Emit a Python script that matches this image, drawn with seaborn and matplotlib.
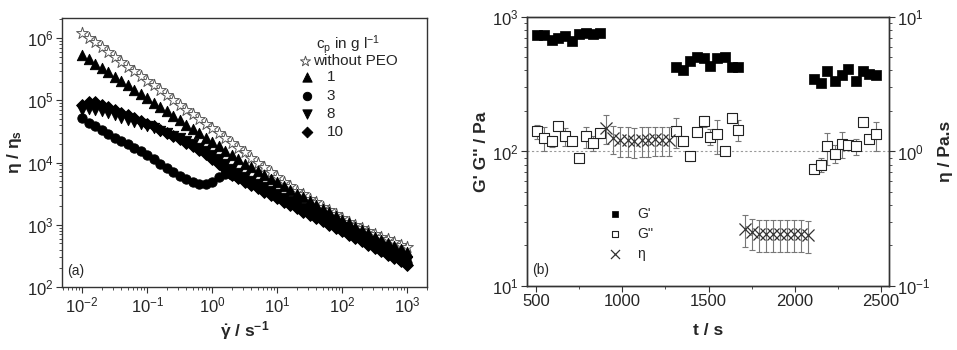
import matplotlib
matplotlib.use("Agg")
import matplotlib.pyplot as plt
import seaborn as sns
from matplotlib.ticker import MultipleLocator, LogLocator, NullFormatter


# ---- panel (a): relative viscosity vs shear rate ----
shear_rate = [0.01, 0.0126, 0.0158, 0.02, 0.0251, 0.0316, 0.0398, 0.0501, 0.0631, 0.0794,
              0.1, 0.126, 0.158, 0.2, 0.251, 0.316, 0.398, 0.501, 0.631, 0.794,
              1, 1.26, 1.58, 2, 2.51, 3.16, 3.98, 5.01, 6.31, 7.94,
              10, 12.6, 15.8, 20, 25.1, 31.6, 39.8, 50.1, 63.1, 79.4,
              100, 126, 158, 200, 251, 316, 398, 501, 631, 794, 1000]

eta_no_peo = [1200000, 1000000, 851000, 708000, 589000, 501000, 417000, 347000, 295000, 245000,
              204000, 174000, 145000, 120000, 102000, 85100, 70800, 60300, 50100, 41700,
              35500, 29500, 24500, 20900, 17400, 14500, 12000, 10000, 8320, 6920,
              5750, 4900, 4170, 3550, 3090, 2630, 2290, 1950, 1700, 1480,
              1290, 1120, 1000, 891, 794, 708, 646, 589, 525, 479, 437]

eta_c1 = [537000, 457000, 389000, 331000, 282000, 240000, 204000, 174000, 148000, 126000,
          107000, 91200, 77600, 66100, 56200, 47900, 40700, 34700, 29500, 25100,
          21400, 18200, 15500, 13200, 11200, 9550, 8320, 7240, 6310, 5500,
          4790, 4170, 3630, 3160, 2750, 2400, 2090, 1820, 1580, 1380,
          1200, 1050, 912, 813, 724, 646, 575, 513, 457, 407, 363]

eta_c3 = [51300, 43700, 38000, 33100, 28800, 25100, 21900, 19500, 17000, 15100,
          13200, 11200, 9550, 8130, 6920, 6030, 5370, 4900, 4570, 4570,
          4900, 5750, 6460, 6310, 5750, 5250, 4680, 4170, 3630, 3240,
          2880, 2510, 2240, 2000, 1740, 1550, 1380, 1230, 1070, 955,
          851, 741, 661, 589, 513, 457, 407, 355, 316, 275, 245]

eta_c8 = [69200, 72400, 70800, 66100, 61700, 57500, 52500, 49000, 44700, 41700,
          38000, 35500, 32400, 29500, 26900, 24500, 21900, 19500, 17400, 15100,
          13200, 11200, 9550, 7940, 6760, 5890, 5130, 4570, 3980, 3470,
          3090, 2690, 2400, 2140, 1860, 1660, 1480, 1320, 1150, 1020,
          912, 794, 708, 631, 550, 490, 437, 380, 339, 295, 263]

eta_c10 = [83200, 95500, 93300, 85100, 77600, 69200, 63100, 57500, 51300, 46800,
           41700, 38000, 33900, 30200, 26900, 24000, 20900, 18200, 15800, 13500,
           11500, 9550, 7940, 6310, 5620, 4900, 4370, 3890, 3390, 3020,
           2690, 2340, 2090, 1860, 1620, 1450, 1290, 1150, 1000, 891,
           794, 692, 617, 550, 479, 427, 380, 331, 295, 257, 229]

# ---- panel (b): moduli and viscosity vs time ----
time_G = [507, 546, 590, 629, 668, 707, 751, 790, 828, 871,
          1311, 1350, 1392, 1434, 1473, 1508, 1550, 1595, 1634, 1672,
          2111, 2150, 2188, 2232, 2271, 2309, 2352, 2393, 2429, 2468]

g_prime = [736, 736, 676, 695, 723, 668, 749, 757, 745, 765,
           428, 400, 474, 508, 494, 433, 494, 502, 428, 428,
           345, 323, 398, 332, 372, 410, 332, 394, 378, 372]

g_dprime = [141, 126, 119, 154, 130, 119, 90, 130, 115, 137,
            141, 120, 92, 139, 168, 129, 134, 101, 176, 145,
            74.5, 80, 109, 96.5, 114, 112.5, 109, 167, 123, 134]

g_dprime_err = [17, 26, 11, 8, 20, 8, 3, 23, 15, 10,
                35, 10, 7, 3, 15, 18, 38, 5, 6, 25,
                3, 10, 29, 15, 25, 8, 15, 5, 5, 33]

time_eta = [906, 948, 987, 1031, 1070, 1112, 1151, 1190, 1232, 1272,
            1711, 1752, 1792, 1833, 1873, 1914, 1954, 1995, 2035, 2076]

eta_b = [1.50, 1.25, 1.22, 1.21, 1.20, 1.21, 1.22, 1.23, 1.22, 1.22,
         0.265, 0.250, 0.245, 0.243, 0.243, 0.243, 0.243, 0.243, 0.243, 0.240]

eta_b_err = [0.37, 0.30, 0.31, 0.30, 0.30, 0.30, 0.31, 0.30, 0.30, 0.30,
             0.07, 0.065, 0.065, 0.065, 0.065, 0.065, 0.065, 0.065, 0.065, 0.065]


sns.set_style("ticks")
plt.rcParams["font.family"] = ["Liberation Sans", "DejaVu Sans"]
plt.rcParams["mathtext.fontset"] = "custom"
plt.rcParams["mathtext.rm"] = "Liberation Sans"
plt.rcParams["mathtext.it"] = "Liberation Sans:italic"
plt.rcParams["mathtext.bf"] = "Liberation Sans:bold"
plt.rcParams["mathtext.default"] = "regular"

fig = plt.figure(figsize=(9.57, 3.5), dpi=100)
ax1 = fig.add_axes([0.0648, 0.18, 0.3814, 0.7686])
ax2 = fig.add_axes([0.5507, 0.1829, 0.3783, 0.7686])
ax3 = ax2.twinx()

spine_col = "#333333"


def style_axis(ax):
    for sp in ax.spines.values():
        sp.set_visible(True)
        sp.set_color(spine_col)
        sp.set_linewidth(1.0)
    ax.tick_params(which="major", direction="out", length=4, width=0.8,
                   labelsize=12, color=spine_col, pad=2)
    ax.tick_params(which="minor", direction="out", length=2, width=0.6,
                   color=spine_col)


# ---------- panel (a) ----------
ax1.set_xscale("log")
ax1.set_yscale("log")

series_a = [
    (eta_no_peo, "*", 80, "white", "#555555", "without PEO"),
    (eta_c1, "^", 55, "black", "black", "1"),
    (eta_c8, "v", 55, "black", "black", "8"),
    (eta_c3, "o", 45, "black", "black", "3"),
    (eta_c10, "D", 36, "black", "black", "10"),
]
handles_a = {}
for yvals, mk, size, fc, ec, lab in series_a:
    sns.scatterplot(x=shear_rate, y=yvals, marker=mk, s=size, color=fc,
                    edgecolor=ec, linewidth=0.7, ax=ax1, legend=False)
    handles_a[lab] = ax1.collections[-1]

ax1.set_xlim(0.0049, 2000)
ax1.set_ylim(100, 2.1e6)
ax1.xaxis.set_major_locator(LogLocator(base=10, numticks=10))
ax1.xaxis.set_minor_locator(LogLocator(base=10, subs=range(2, 10), numticks=20))
ax1.xaxis.set_minor_formatter(NullFormatter())
ax1.yaxis.set_minor_locator(LogLocator(base=10, subs=range(2, 10), numticks=20))
ax1.yaxis.set_minor_formatter(NullFormatter())
style_axis(ax1)

ax1.set_xlabel(r"$\dot{\mathbf{\gamma}}$ / s$^\mathbf{-1}$", fontsize=12.5,
               fontweight="bold", labelpad=3)
ax1.set_ylabel(r"η / η$_\mathbf{s}$", fontsize=12.5, fontweight="bold", labelpad=2)
ax1.text(0.015, 0.045, "(a)", transform=ax1.transAxes, fontsize=10)

leg_top = ax1.legend([handles_a["without PEO"]], ["without PEO"],
                     title="c$_p$ in g l$^{-1}$", title_fontsize=11,
                     loc="upper left", bbox_to_anchor=(0.645, 0.944),
                     frameon=False, borderpad=0, handlelength=1.0,
                     handletextpad=0.05, labelspacing=-0.1, fontsize=11,
                     borderaxespad=0, markerscale=0.85)
ax1.add_artist(leg_top)
ax1.legend([handles_a[k] for k in ["1", "3", "8", "10"]], ["1", "3", "8", "10"],
           loc="upper left", bbox_to_anchor=(0.650, 0.806), frameon=False,
           borderpad=0, handlelength=1.0, handletextpad=0.8,
           labelspacing=0.29, fontsize=11, borderaxespad=0, markerscale=0.9)

# ---------- panel (b) ----------
ax2.set_yscale("log")
ax3.set_yscale("log")

ax2.axhline(100, color="#9a9a9a", lw=0.8, ls=(0, (2, 2)), zorder=0)

ax2.errorbar(time_G, g_dprime, yerr=g_dprime_err, fmt="none", ecolor="#777777",
             elinewidth=0.8, capsize=2.5, capthick=0.8, zorder=1)
sns.scatterplot(x=time_G, y=g_prime, marker="s", s=42, color="black",
                edgecolor="black", linewidth=0.5, ax=ax2, legend=False, zorder=3)
h_gp = ax2.collections[-1]
sns.scatterplot(x=time_G, y=g_dprime, marker="s", s=42, color="white",
                edgecolor="#222222", linewidth=0.8, ax=ax2, legend=False, zorder=2)
h_gpp = ax2.collections[-1]

ax3.errorbar(time_eta, eta_b, yerr=eta_b_err, fmt="none", ecolor="#777777",
             elinewidth=0.8, capsize=2.5, capthick=0.8, zorder=1)
sns.scatterplot(x=time_eta, y=eta_b, marker="x", s=75, color="#333333",
                linewidth=0.9, ax=ax3, legend=False, zorder=2)
h_eta = ax3.collections[-1]

ax2.set_xlim(448, 2546)
ax2.set_ylim(10, 1000)
ax3.set_ylim(0.1, 10)
ax2.xaxis.set_major_locator(MultipleLocator(500))
ax2.xaxis.set_minor_locator(MultipleLocator(250))
for ax in (ax2, ax3):
    ax.yaxis.set_minor_locator(LogLocator(base=10, subs=range(2, 10), numticks=20))
    ax.yaxis.set_minor_formatter(NullFormatter())
style_axis(ax2)
style_axis(ax3)
ax3.tick_params(axis="y", which="both", right=True, left=False)

ax2.set_xlabel("t / s", fontsize=12.5, fontweight="bold", labelpad=10)
ax2.set_ylabel("G' G'' / Pa", fontsize=12.5, fontweight="bold", labelpad=2)
ax3.set_ylabel("η / Pa.s", fontsize=12.5, fontweight="bold", labelpad=5)
ax2.text(0.015, 0.045, "(b)", transform=ax2.transAxes, fontsize=10)

ax3.legend([h_gp, h_gpp, h_eta], ["G'", "G''", "η"], loc="upper left",
           bbox_to_anchor=(0.224, 0.294), frameon=False, borderpad=0,
           handlelength=1.0, handletextpad=1.09, labelspacing=0.44,
           fontsize=10, borderaxespad=0, markerscale=0.75)

fig.savefig("out.png", dpi=100)
